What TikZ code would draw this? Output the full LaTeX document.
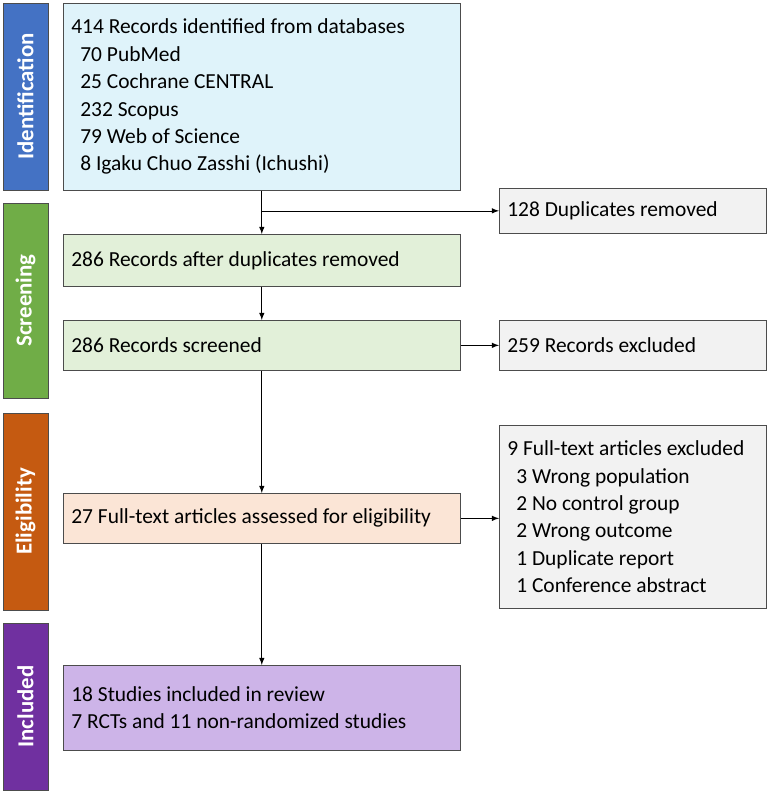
\documentclass[tikz,border=0pt]{standalone}
\usepackage{fontspec}
\setmainfont{Carlito}
\usetikzlibrary{positioning}
\definecolor{idblue}{HTML}{4472C4}
\definecolor{scgreen}{HTML}{70AD47}
\definecolor{elorange}{HTML}{C55A11}
\definecolor{inpurple}{HTML}{7030A0}
\definecolor{boxblue}{HTML}{DFF3FA}
\definecolor{boxgreen}{HTML}{E2F0D9}
\definecolor{boxorange}{HTML}{FBE5D6}
\definecolor{boxpurple}{HTML}{CDB4E8}
\definecolor{boxgray}{HTML}{F2F2F2}
\begin{document}
\begin{tikzpicture}[x=0.02cm,y=-0.02cm,>=latex,
    phase/.style={draw=black!70,minimum height=0.9cm,text=white,font=\bfseries\fontsize{13}{15}\selectfont,rotate=90},
    box/.style={draw=black!70,anchor=north west,align=flush left,inner sep=0.16cm,font=\fontsize{12.2}{15.6}\selectfont},
    mainbox/.style={box,text width=7.62cm},
    sidebox/.style={box,text width=5.02cm},
    arr/.style={->,black}]
    \useasboundingbox (0,0) rectangle (769,792);
    % phase bars
    \node[phase,fill=idblue,minimum width=3.74cm] (id) at (25.5,96.5) {Identification};
    \node[phase,fill=scgreen,minimum width=3.9cm] (sc) at (25.5,300.5) {Screening};
    \node[phase,fill=elorange,minimum width=3.94cm] (el) at (25.5,511.5) {Eligibility};
    \node[phase,fill=inpurple,minimum width=3.34cm] (in) at (25.5,706.5) {Included};
    % main boxes
    \node[mainbox,fill=boxblue,minimum height=3.74cm] (rec) at (63,3)
      {414 Records identified from databases\\
       \hspace{0.18cm}70 PubMed\\
       \hspace{0.18cm}25 Cochrane CENTRAL\\
       \hspace{0.18cm}232 Scopus\\
       \hspace{0.18cm}79 Web of Science\\
       \hspace{0.18cm}8 Igaku Chuo Zasshi (Ichushi)};
    \node[mainbox,fill=boxgreen,minimum height=1.04cm] (dup) at (63,234) {286 Records after duplicates removed};
    \node[mainbox,fill=boxgreen,minimum height=1.0cm] (scr) at (63,320) {286 Records screened};
    \node[mainbox,fill=boxorange,minimum height=1.0cm] (ft) at (63,493) {27 Full-text articles assessed for eligibility};
    \node[mainbox,fill=boxpurple,minimum height=1.7cm] (inc) at (63,665)
      {18 Studies included in review\\7 RCTs and 11 non-randomized studies};
    % side boxes
    \node[sidebox,fill=boxgray,minimum height=0.9cm] (rem) at (499,188) {128 Duplicates removed};
    \node[sidebox,fill=boxgray,minimum height=1.0cm] (exc) at (499,320) {259 Records excluded};
    \node[sidebox,fill=boxgray,minimum height=3.66cm] (ftx) at (499,425)
      {9 Full-text articles excluded\\
       \hspace{0.18cm}3 Wrong population\\
       \hspace{0.18cm}2 No control group\\
       \hspace{0.18cm}2 Wrong outcome\\
       \hspace{0.18cm}1 Duplicate report\\
       \hspace{0.18cm}1 Conference abstract};
    % connectors
    \coordinate (split) at (rec.south |- rem.west);
    \draw[arr] (rec.south) -- (dup.north);
    \draw[arr] (split) -- (rem.west);
    \draw[arr] (dup.south) -- (scr.north);
    \draw[arr] (scr.south) -- (ft.north);
    \draw[arr] (scr.east) -- (exc.west);
    \draw[arr] (ft.east) -- (ft.east -| ftx.west);
    \draw[arr] (ft.south) -- (inc.north);
\end{tikzpicture}
\end{document}
